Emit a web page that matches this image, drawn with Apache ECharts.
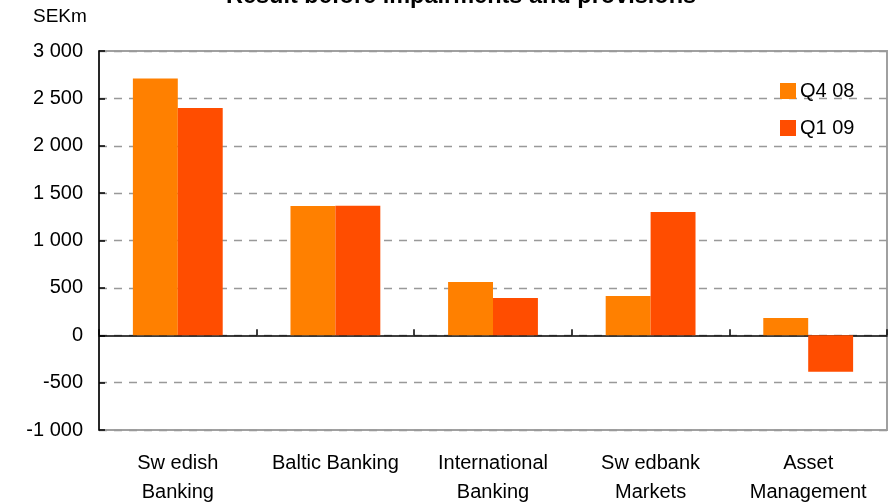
<!DOCTYPE html>
<html>
<head>
<meta charset="utf-8">
<script src="https://cdn.jsdelivr.net/npm/echarts@6/dist/echarts.min.js"></script>
<style>html,body{margin:0;padding:0;background:#fff;}#c{width:889px;height:504px;}</style>
</head>
<body>
<div id="c"></div>
<script>
var categories = ['Sw edish\nBanking', 'Baltic Banking', 'International\nBanking', 'Sw edbank\nMarkets', 'Asset\nManagement'];
var seriesNames = ['Q4 08', 'Q1 09'];
var q4_08 = [2710, 1365, 562, 415, 183];
var q1_09 = [2398, 1366, 393, 1301, -384];
var yTickLabels = {'-1000': '-1 000', '-500': '-500', '0': '0', '500': '500', '1000': '1 000', '1500': '1 500', '2000': '2 000', '2500': '2 500', '3000': '3 000'};
var titleText = 'Result before impairments and provisions';
var unitText = 'SEKm';

var FONT = '"Liberation Sans", Arial, sans-serif';
var chart = echarts.init(document.getElementById('c'), null, {renderer: 'canvas'});
chart.setOption({
  animation: false,
  backgroundColor: '#fff',
  title: [
    {text: titleText, left: 226, top: -15, padding: 0,
     textStyle: {fontFamily: FONT, fontWeight: 'bold', fontSize: 23.5, color: '#000'}},
    {text: unitText, left: 33, top: 7, padding: 0,
     textStyle: {fontFamily: FONT, fontWeight: 'normal', fontSize: 19, color: '#000'}}
  ],
  legend: {
    orient: 'vertical', left: 780, top: 81, padding: 0,
    itemWidth: 16, itemHeight: 16, itemGap: 17, icon: 'rect',
    textStyle: {fontFamily: FONT, fontSize: 20, color: '#000', padding: [0, 0, 0, -1]},
    data: seriesNames
  },
  grid: {left: 99, right: 2, top: 51, bottom: 74, outerBoundsMode: 'none', containLabel: false,
         show: true, borderColor: '#a0a0a0', borderWidth: 2, backgroundColor: 'transparent'},
  xAxis: [
    {type: 'category', data: categories, position: 'bottom',
     axisLine: {show: false, onZero: false},
     axisTick: {show: false},
     axisLabel: {fontFamily: FONT, fontSize: 20, color: '#000', margin: 19, lineHeight: 29, interval: 0},
     splitLine: {show: false}},
    {type: 'category', data: categories, position: 'bottom',
     axisLine: {show: true, onZero: true, lineStyle: {color: '#000', width: 1.5}},
     axisTick: {show: true, inside: true, length: 6, lineStyle: {color: '#000', width: 1.5}},
     axisLabel: {show: false},
     splitLine: {show: false}}
  ],
  yAxis: {
    type: 'value', min: -1000, max: 3000, interval: 500,
    axisLine: {show: true, lineStyle: {color: '#000', width: 1.5}},
    axisTick: {show: true, inside: true, length: 6, lineStyle: {color: '#000', width: 1.5}},
    axisLabel: {fontFamily: FONT, fontSize: 20, color: '#000', margin: 16,
      formatter: function (v) { return yTickLabels[String(v)]; }},
    splitLine: {show: true, lineStyle: {color: '#999', width: 1.3, type: [8, 7]}}
  },
  series: [
    {name: seriesNames[0], type: 'bar', xAxisIndex: 0, data: q4_08, barGap: '0%', barCategoryGap: '43%',
     itemStyle: {color: '#FF8000'}},
    {name: seriesNames[1], type: 'bar', xAxisIndex: 0, data: q1_09, barGap: '0%', barCategoryGap: '43%',
     itemStyle: {color: '#FF4D00'}}
  ]
});
</script>
</body>
</html>
